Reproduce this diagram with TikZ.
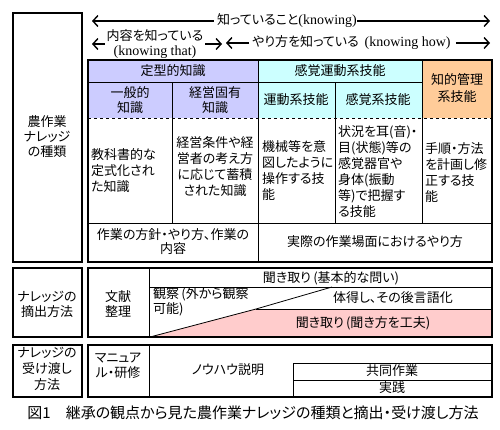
\documentclass[tikz,border=0pt]{standalone}
\usepackage{fontspec}
\setmainfont{Noto Sans CJK JP}[RawFeature=+palt]
\newfontfamily\serf{Liberation Serif}
\usetikzlibrary{arrows.meta}
\definecolor{lav}{HTML}{CCCCFF}
\definecolor{cya}{HTML}{CCFFFF}
\definecolor{ora}{HTML}{FFCC99}
\definecolor{pnk}{HTML}{FFCCCC}
\tikzset{
  thickbox/.style={draw=black, line width=1.6pt},
  cellline/.style={draw=black, line width=0.8pt},
  txt/.style={inner sep=0pt, font=\fontsize{13}{16}\selectfont, align=center},
  ltxt/.style={txt, align=left, anchor=west},
  arr/.style={line width=1.4pt, -{Straight Barb[length=5pt,width=11pt]}},
}
\begin{document}
\begin{tikzpicture}[x=1pt,y=-1pt]
\useasboundingbox (0,0) rectangle (500,429);
\fill[white] (0,0) rectangle (500,429);

% ---------- top arrows ----------
\node[txt] (know) at (287,21) {知っていること{\serf\fontsize{14}{16}\selectfont(knowing)}};
\coordinate (k1a) at (92,21);
\coordinate (k1b) at (490,21);
\draw[arr] ([xshift=-3pt]know.west) -- (k1a);
\draw[arr] (know.east) -- (k1b);

\node[txt, font=\fontsize{13}{15}\selectfont] (that) at (155,44) {内容を知っている\\{\serf\fontsize{14}{15}\selectfont(knowing that)}};
\coordinate (t1) at (92,44);
\coordinate (t2) at (222,44);
\draw[arr] ([xshift=-2pt]that.west) -- (t1);
\draw[arr] ([xshift=2pt]that.east) -- (t2);

\node[txt, anchor=west] (how) at (252,43) {やり方を知っている\ \ {\serf\fontsize{14}{16}\selectfont(knowing how)}};
\coordinate (h1) at (226,43);
\coordinate (h2) at (490,43);
\draw[arr] ([xshift=-3pt]how.west) -- (h1);
\draw[arr] ([xshift=5pt]how.east) -- (h2);

% ---------- section 1 ----------
\fill[lav] (88,60) rectangle (258,118);
\fill[cya] (258,60) rectangle (422,118);
\fill[ora] (422,60) rectangle (492,118);
\draw[cellline] (88,82) -- (422,82);
\draw[cellline] (258,60) -- (258,262);
\draw[cellline] (422,60) -- (422,223);
\draw[cellline] (172,82) -- (172,223);
\draw[cellline] (335,82) -- (335,223);
\draw[cellline, dashed] (88,118) -- (492,118);
\draw[cellline] (88,223) -- (492,223);
\draw[thickbox] (88,60) rectangle (492,262);
\draw[thickbox] (13,13) rectangle (82,262);

\node[txt, font=\fontsize{13}{15}\selectfont] (kind) at (47,137) {農作業\\ナレッジ\\の種類};
\node[txt] (teikei) at (173,71) {定型的知識};
\node[txt] (kankaku) at (340,71) {感覚運動系技能};
\node[txt, font=\fontsize{13}{17}\selectfont] (chiteki) at (457,88) {知的管理\\系技能};
\node[txt, font=\fontsize{13}{15}\selectfont] (ippan) at (130,100) {一般的\\知識};
\node[txt, font=\fontsize{13}{15}\selectfont] (keiei) at (215,100) {経営固有\\知識};
\node[txt] (undo) at (296,100) {運動系技能};
\node[txt] (kankei) at (378,100) {感覚系技能};

\node[ltxt] (b1) at (91,171) {教科書的な\\定式化され\\た知識};
\node[txt] (b2) at (215,167) {経営条件や経\\営者の考え方\\に応じて蓄積\\された知識};
\node[ltxt] (b3) at (262,171) {機械等を意\\図したように\\操作する技\\能};
\node[ltxt] (b4) at (338,172) {状況を耳(音)・\\目(状態)等の\\感覚器官や\\身体(振動\\等)で把握す\\る技能};
\node[ltxt] (b5) at (425,173) {手順・方法\\を計画し修\\正する技\\能};

\node[txt, font=\fontsize{13}{14}\selectfont] (hoshin) at (173,242) {作業の方針・やり方、作業の\\内容};
\node[txt] (jissai) at (375,242) {実際の作業場面におけるやり方};

% ---------- section 2 ----------
\fill[pnk] (150,337) -- (256,309) -- (492,309) -- (492,337) -- cycle;
\draw[cellline] (149,268) -- (149,337);
\draw[cellline] (149,287) -- (492,287);
\draw[cellline] (150,337) -- (256,309) -- (332,287);
\draw[cellline] (256,309) -- (492,309);
\draw[thickbox] (88,268) rectangle (492,337);
\draw[thickbox] (13,268) rectangle (82,337);

\node[txt, font=\fontsize{13}{15}\selectfont] (tekishutsu) at (47,304) {ナレッジの\\摘出方法};
\node[txt, font=\fontsize{13}{15}\selectfont] (bunken) at (118,304) {文献\\整理};
\node[txt] (kiki1) at (331,278) {聞き取り\,(基本的な問い)};
\node[ltxt, font=\fontsize{13}{13}\selectfont] (kansatsu) at (153,302) {観察\,(外から観察\\可能)};
\node[txt] (taitoku) at (393,298) {体得し、その後言語化};
\node[txt] (kiki2) at (363,323) {聞き取り\,(聞き方を工夫)};

% ---------- section 3 ----------
\draw[cellline] (149,345) -- (149,397);
\draw[cellline] (293,363) rectangle (492,397);
\draw[cellline] (293,380) -- (492,380);
\draw[thickbox] (88,345) rectangle (492,397);
\draw[thickbox] (13,345) rectangle (82,397);

\node[txt, font=\fontsize{13}{16}\selectfont] (ukewatashi) at (47,369) {ナレッジの\\受け渡し\\方法};
\node[txt, font=\fontsize{13}{15}\selectfont] (manual) at (118,366) {マニュア\\ル・研修};
\node[txt] (knowhow) at (228,370) {ノウハウ説明};
\node[txt] (kyodo) at (392,371) {共同作業};
\node[txt] (jissen) at (392,388) {実践};

% ---------- caption ----------
\node[txt, font=\fontsize{15}{17}\selectfont] (caption) at (253,413) {図1\quad 継承の観点から見た農作業ナレッジの種類と摘出・受け渡し方法};
\end{tikzpicture}
\end{document}
